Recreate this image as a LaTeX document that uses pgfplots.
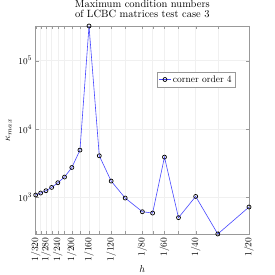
\documentclass[border=0pt]{standalone}
\usepackage{pgfplots}
\pgfplotsset{compat=1.18}
\definecolor{lineblue}{rgb}{0.28,0.28,1}
\definecolor{markfill}{rgb}{0.72,0.72,0.88}
\definecolor{axgray}{rgb}{0.6,0.6,0.6}
\begin{document}
\begin{tikzpicture}
\useasboundingbox (-35.7pt,-41pt) rectangle (239.3pt,234pt);
\begin{axis}[
  scale only axis,
  width=213.3pt, height=208pt,
  xmode=log, ymode=log,
  xmin=0.003125, xmax=0.05,
  ymin=292, ymax=321000,
  axis line style={axgray},
  tick style={axgray},
  tick align=inside,
  major tick length=3pt,
  minor tick num=0,
  xminorticks=false, yminorticks=false,
  grid=major,
  major grid style={gray!12, line width=0.4pt},
  xtick={0.003125,0.0033333,0.0035714,0.0038462,0.0041667,0.0045455,0.005,0.0055556,0.00625,0.0071429,0.0083333,0.01,0.0125,0.0142857,0.0166667,0.02,0.025,0.0333333,0.05},
  xticklabels={1/320,,1/280,,1/240,,1/200,,1/160,,1/120,,1/80,,1/60,,1/40,,1/20},
  x tick label style={rotate=90, anchor=east, font=\fontsize{9.5}{11}\selectfont},
  ytick={1000,10000,100000},
  yticklabels={$10^3$,$10^4$,$10^5$},
  y tick label style={font=\fontsize{9.5}{11}\selectfont},
  xlabel={$h$},
  ylabel={$\kappa_{max}$},
  xlabel style={font=\fontsize{10}{12}\selectfont, at={(axis description cs:0.5,0)}, anchor=north, yshift=-28pt},
  ylabel style={font=\fontsize{10}{12}\selectfont},
  title={Maximum condition numbers\\of LCBC matrices test case 3},
  title style={align=center, font=\fontsize{10.5}{10}\selectfont, at={(0.5,1)}, anchor=south, yshift=0pt, inner sep=2pt},
  legend style={at={(0.936,0.780)}, anchor=north east, draw=axgray, font=\fontsize{9.5}{11}\selectfont, inner sep=1.5pt},
  legend cell align=left,
  legend image code/.code={
    \draw[#1, mark repeat=2, mark phase=2] plot coordinates {(0cm,0cm) (0.2cm,0cm) (0.4cm,0cm)};
  },
]
\addplot[lineblue, line width=0.6pt, mark=o, mark size=2pt,
  mark options={draw=black, fill=markfill, line width=0.7pt}]
  coordinates {
  (0.003125,1084)
  (0.0033333,1160)
  (0.0035714,1253)
  (0.0038462,1400)
  (0.0041667,1640)
  (0.0045455,1987)
  (0.005,2740)
  (0.0055556,4920)
  (0.00625,321000)
  (0.0071429,4065)
  (0.0083333,1735)
  (0.01,980)
  (0.0125,618)
  (0.0142857,591)
  (0.0166667,3890)
  (0.02,506)
  (0.025,1034)
  (0.0333333,292)
  (0.05,724)
  };
\addlegendentry{corner order 4}
\end{axis}
\end{tikzpicture}
\end{document}
